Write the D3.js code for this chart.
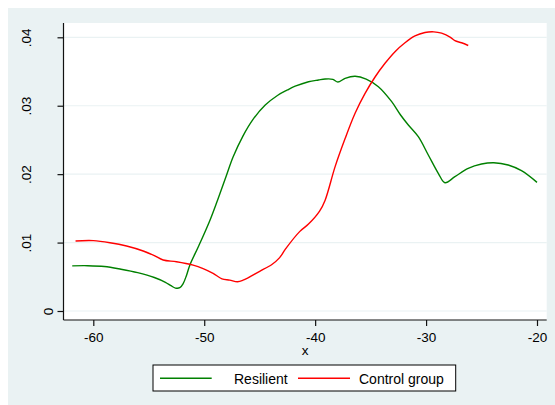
<!DOCTYPE html>
<html>
<head>
<meta charset="utf-8">
<script src="https://cdn.jsdelivr.net/npm/d3@7"></script>
<style>
  html, body { margin: 0; padding: 0; background: #ffffff; }
  svg { display: block; font-family: Arial, "Liberation Sans", Helvetica, sans-serif; }
</style>
</head>
<body>
<svg id="chart" width="555" height="405"></svg>
<script>
// Kernel density estimates, x value and density
const resilientX = [-61.9, -60.5, -59, -57.5, -56, -54.5, -53.5, -53, -52.6, -52.2, -51.9, -51.6, -51.3,
  -50.5, -49.5, -48.8, -48.0, -47.4, -46.5, -45.6, -44.5, -43.4, -42.5, -41.8, -40.6, -39.7, -39.1, -38.4,
  -37.95, -37.3, -36.4, -35.4, -34.3, -33.1, -32.3, -31.6, -30.7, -29.8, -28.9, -28.3, -27.4, -26.2,
  -25.0, -23.9, -22.6, -21.4, -20.0];
const resilientY = [0.0066, 0.00662, 0.0065, 0.0061, 0.0056, 0.0049, 0.0042, 0.0037, 0.00335, 0.0034, 0.0040, 0.0052, 0.0067,
  0.0095, 0.0132, 0.0162, 0.0198, 0.0225, 0.0256, 0.0280, 0.0301, 0.0315, 0.0323, 0.03285, 0.03351, 0.03376, 0.0339, 0.03386,
  0.03346, 0.0340, 0.0343, 0.0339, 0.03278, 0.03059, 0.02864, 0.02718, 0.02547, 0.0228, 0.02012, 0.01875, 0.01963, 0.02085,
  0.02148, 0.02167, 0.02134, 0.0205, 0.0188];

const controlX = [-61.6, -60.0, -58.5, -57.0, -55.5, -54.5, -53.7, -52.5, -51.0, -50.1, -49.2, -48.4, -47.7,
  -47.0, -46.5, -45.0, -43.9, -43.2, -42.7, -41.4, -40.6, -39.6, -39.1, -38.2, -37.3, -36.4, -35.5,
  -34.6, -33.7, -32.8, -31.9, -31.0, -30.1, -29.3, -28.6, -27.8, -27.4, -26.8, -26.2];
const controlY = [0.01023, 0.01028, 0.00998, 0.0095, 0.00877, 0.0081, 0.00745, 0.0072, 0.0067, 0.0062, 0.0055, 0.0047, 0.00452,
  0.00428, 0.0045, 0.0058, 0.0068, 0.0078, 0.0090, 0.0116, 0.0127, 0.0146, 0.0162, 0.0211, 0.0252, 0.0289, 0.0318,
  0.0342, 0.0362, 0.0379, 0.0392, 0.0402, 0.0407, 0.0408, 0.0406, 0.0400, 0.0395, 0.0392, 0.0388];

const xTicks = [-60, -50, -40, -30, -20];
const yTicks = [0, 0.01, 0.02, 0.03, 0.04];
const yTickLabels = ["0", ".01", ".02", ".03", ".04"];
const seriesNames = ["Resilient", "Control group"];
const seriesColors = ["#008000", "#ff0000"];
const xTitle = "x";

const svg = d3.select("#chart");
const plot = { left: 63.5, right: 546.7, top: 23, bottom: 320 };

const x = d3.scaleLinear().domain([-60, -20]).range([93.3, 537]);
const y = d3.scaleLinear().domain([0, 0.04]).range([311, 37.3]);

// graph region background
svg.append("rect").attr("x", 8).attr("y", 8).attr("width", 547).attr("height", 397).attr("fill", "#eaf2f3");
// plot region
svg.append("rect").attr("x", plot.left).attr("y", plot.top)
  .attr("width", plot.right - plot.left).attr("height", plot.bottom - plot.top).attr("fill", "#ffffff");

// horizontal grid lines
svg.append("g").selectAll("line").data(yTicks).join("line")
  .attr("x1", plot.left).attr("x2", plot.right)
  .attr("y1", d => y(d)).attr("y2", d => y(d))
  .attr("stroke", "#eaf2f3").attr("stroke-width", 1.2);

// y axis
const yAxis = svg.append("g").attr("transform", `translate(${plot.left},0)`)
  .call(d3.axisLeft(y).tickValues(yTicks).tickSize(6).tickFormat((d, i) => yTickLabels[i]));
yAxis.select(".domain").attr("d", `M0,${plot.top}V${plot.bottom}`).attr("stroke", "#111").attr("stroke-width", 1.2);
yAxis.selectAll(".tick line").attr("stroke", "#111").attr("stroke-width", 1.2);
yAxis.selectAll(".tick text")
  .attr("fill", "#000").style("font-size", "13.5px")
  .attr("text-anchor", "middle").attr("dy", null).attr("x", null)
  .each(function () {
    const t = d3.select(this);
    const w = this.getComputedTextLength();
    const cx = -2 * w;
    t.attr("transform", `translate(${cx},0) rotate(-90)`).attr("y", 4.8).attr("x", 0);
  });

// x axis
const xAxis = svg.append("g").attr("transform", `translate(0,${plot.bottom})`)
  .call(d3.axisBottom(x).tickValues(xTicks).tickSize(6).tickFormat(d3.format("d")));
xAxis.select(".domain").attr("d", `M${plot.left},0H${plot.right}`).attr("stroke", "#111").attr("stroke-width", 1.2);
xAxis.selectAll(".tick line").attr("stroke", "#111").attr("stroke-width", 1.2);
xAxis.selectAll(".tick text").attr("fill", "#000").style("font-size", "13.5px")
  .attr("y", 22).attr("dy", null).text(d => String(d).replace("\u2212", "-"));

svg.append("text").attr("x", (plot.left + plot.right) / 2).attr("y", 355)
  .attr("text-anchor", "middle").style("font-size", "13.5px").attr("fill", "#000").text(xTitle);

// density curves
const line = d3.line().x(d => x(d[0])).y(d => y(d[1])).curve(d3.curveCatmullRom.alpha(0.5));
const series = [
  d3.zip(resilientX, resilientY),
  d3.zip(controlX, controlY)
];
svg.append("g").selectAll("path").data(series).join("path")
  .attr("d", line).attr("fill", "none")
  .attr("stroke", (d, i) => seriesColors[i]).attr("stroke-width", 1.4)
  .attr("stroke-linejoin", "round");

// legend
const legend = svg.append("g");
legend.append("rect").attr("x", 153).attr("y", 365).attr("width", 302.7).attr("height", 26)
  .attr("fill", "#ffffff").attr("stroke", "#000").attr("stroke-width", 1);
const items = [{ x0: 160, x1: 211.7, tx: 234 }, { x0: 298, x1: 350, tx: 359 }];
items.forEach((it, i) => {
  legend.append("line").attr("x1", it.x0).attr("x2", it.x1).attr("y1", 378.3).attr("y2", 378.3)
    .attr("stroke", seriesColors[i]).attr("stroke-width", 1.4);
  legend.append("text").attr("x", it.tx).attr("y", 383.5).style("font-size", "14px")
    .attr("fill", "#000").text(seriesNames[i]);
});
</script>
</body>
</html>
